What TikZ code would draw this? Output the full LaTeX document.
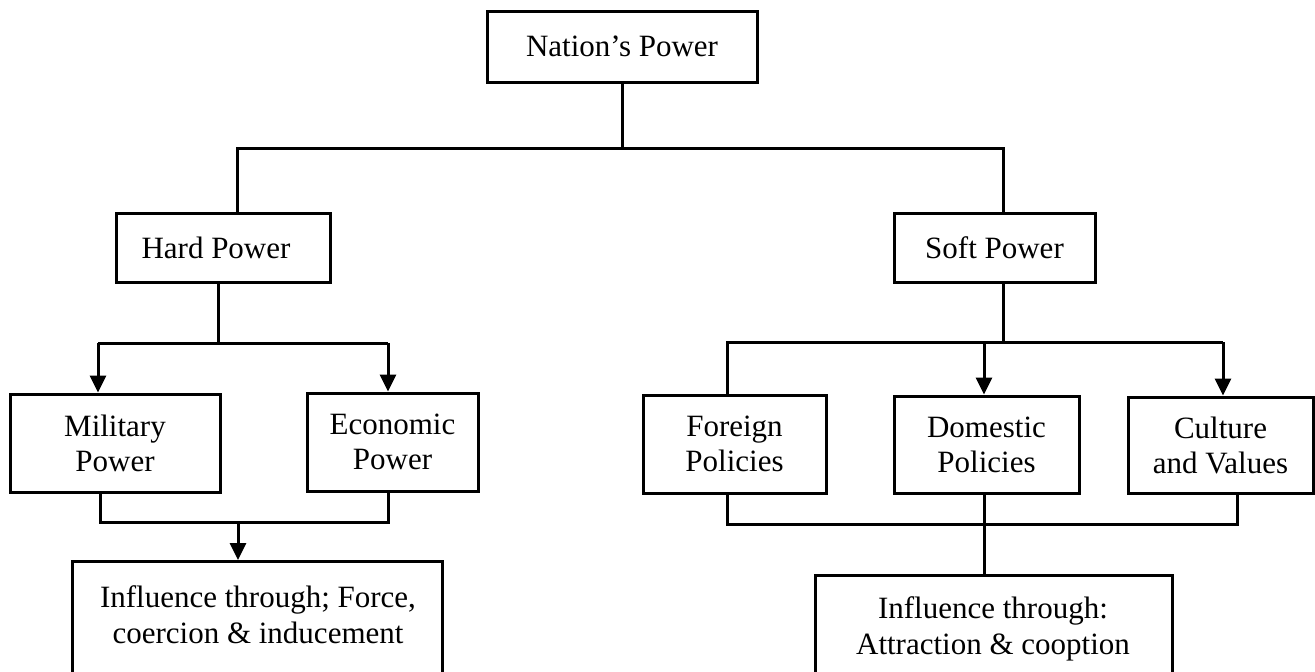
\documentclass[tikz,border=0pt]{standalone}
\usepackage{fontspec}
\setmainfont{Liberation Serif}
\usetikzlibrary{arrows.meta}
\tikzset{
  box/.style={draw=black, line width=3pt, fill=white, inner sep=0pt, align=center, font=\fontsize{31}{35}\selectfont},
  lbl/.style={inner sep=0pt, align=center, font=\fontsize{31}{36}\selectfont},
  conn/.style={draw=black, line width=3pt},
  arr/.style={conn, -{Triangle[width=16pt,length=17pt]}}
}
\begin{document}
\begin{tikzpicture}[x=1pt,y=-1pt]
\clip (0,0) rectangle (1315,672);
\fill[white] (0,0) rectangle (1315,672);
% boxes
\node[box, minimum width=270, minimum height=71] (nation) at (622,46.5) {Nation's Power};
\node[box, minimum width=214, minimum height=69] (hard) at (223,247.5) {\hspace*{-14pt}Hard Power};
\node[box, minimum width=201, minimum height=69] (soft) at (994.5,247.5) {Soft Power};
\node[box, minimum width=210, minimum height=98] (mil) at (115,443) {Military\\Power};
\node[box, minimum width=171, minimum height=98] (eco) at (392.5,442) {Economic\\Power};
\node[box, minimum width=183, minimum height=98] (for) at (734.5,444) {Foreign\\Policies};
\node[box, minimum width=185, minimum height=97] (dom) at (986.5,444.5) {Domestic\\Policies};
\node[box, minimum width=185, minimum height=96] (cul) at (1220.5,445) {Culture\\and Values};
\node[box, minimum width=370, minimum height=160, anchor=north] (infL) at (257,560) {};
\node[lbl] (infLt) at (258,615) {Influence through; Force,\\coercion \& inducement};
\node[box, minimum width=357, minimum height=150, anchor=north] (infR) at (993.5,574) {};
\node[lbl] (infRt) at (993,628.5) {Influence through:\\Attraction \& cooption};
% junction coordinates
\coordinate (j0) at (622,148);
\coordinate (j0L) at (237,148);
\coordinate (j0R) at (1003,148);
\coordinate (j1) at (218,343);
\coordinate (j1L) at (98,343);
\coordinate (j1R) at (388,343);
\coordinate (b1L) at (100,522);
\coordinate (b1R) at (388,522);
\coordinate (b1M) at (238,522);
\coordinate (j2) at (1003,342);
\coordinate (j2L) at (727,342);
\coordinate (j2M) at (984,342);
\coordinate (j2R) at (1223,342);
\coordinate (b2L) at (727,524);
\coordinate (b2R) at (1237,524);
% top level
\draw[conn] (nation.south) -- (j0);
\draw[conn] (j0L |- hard.north) -- (j0L) -- (j0R) -- (j0R |- soft.north);
% hard power branch
\draw[conn] (j1 |- hard.south) -- (j1);
\draw[conn] (j1L) -- (j1R);
\draw[arr] (j1L) -- (j1L |- mil.north);
\draw[arr] (j1R) -- (j1R |- eco.north);
\draw[conn] (b1L |- mil.south) -- (b1L) -- (b1R) -- (b1R |- eco.south);
\draw[arr] (b1M) -- (b1M |- infL.north);
% soft power branch
\draw[conn] (j2 |- soft.south) -- (j2);
\draw[conn] (j2L |- for.north) -- (j2L) -- (j2R);
\draw[arr] (j2M) -- (j2M |- dom.north);
\draw[arr] (j2R) -- (j2R |- cul.north);
\draw[conn] (b2L |- for.south) -- (b2L) -- (b2R) -- (b2R |- cul.south);
\draw[conn] (j2M |- dom.south) -- (j2M |- infR.north);
\end{tikzpicture}
\end{document}
